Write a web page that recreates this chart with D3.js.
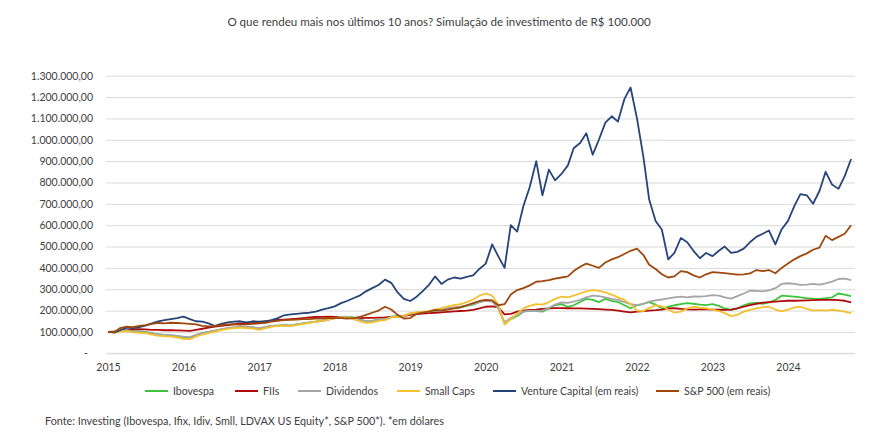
<!DOCTYPE html>
<html>
<head>
<meta charset="utf-8">
<script src="https://cdn.jsdelivr.net/npm/d3@7"></script>
<style>
  body { margin: 0; background: #fff; }
  text { font-family: Lato, "Open Sans", sans-serif; fill: #404040; }
</style>
</head>
<body>
<div id="chart"></div>
<script>
// monthly closing values, in thousands of R$ (start = 100 = R$ 100.000)
var months = d3.timeMonth.range(new Date(2015, 0, 1), new Date(2024, 11, 1));

var ibovespa = [100, 98, 108, 110, 104, 102, 100, 94, 88, 86,
  84, 80, 74, 72, 85, 95, 100, 106, 112, 117,
  120, 124, 122, 122, 114, 122, 128, 130, 132, 130,
  135, 140, 145, 148, 152, 158, 166, 170, 172, 168,
  160, 150, 152, 158, 160, 172, 175, 175, 185, 190,
  192, 195, 198, 205, 210, 212, 215, 222, 228, 240,
  248, 245, 215, 140, 160, 175, 195, 200, 198, 195,
  210, 225, 230, 218, 225, 240, 255, 250, 240, 255,
  245, 240, 225, 211, 225, 232, 240, 228, 210, 218,
  225, 230, 235, 232, 228, 226, 230, 222, 210, 203,
  210, 225, 234, 236, 232, 238, 250, 270, 268, 265,
  262, 258, 256, 255, 258, 262, 280, 275, 268];

var fiis = [100, 102, 105, 110, 112, 113, 112, 110, 110, 108,
  108, 107, 106, 105, 110, 115, 120, 125, 128, 132,
  136, 140, 140, 142, 145, 150, 153, 156, 158, 160,
  162, 165, 168, 170, 171, 172, 170, 168, 166, 164,
  165, 166, 166, 167, 168, 170, 172, 175, 180, 183,
  186, 188, 190, 192, 194, 196, 198, 200, 203, 210,
  218, 220, 215, 182, 185, 195, 200, 203, 205, 208,
  210, 212, 212, 211, 210, 210, 209, 208, 207, 205,
  203, 200, 195, 192, 195, 198, 200, 202, 205, 210,
  211, 208, 206, 205, 206, 206, 205, 204, 203, 205,
  210, 218, 226, 232, 237, 240, 242, 244, 246, 246,
  247, 248, 249, 250, 250, 250, 249, 246, 238];

var dividendos = [100, 98, 106, 108, 103, 100, 98, 93, 88, 86,
  85, 82, 78, 76, 86, 95, 100, 106, 112, 118,
  122, 126, 124, 122, 118, 124, 128, 130, 132, 131,
  135, 140, 144, 148, 152, 158, 164, 168, 170, 166,
  158, 150, 152, 158, 160, 170, 172, 176, 185, 190,
  192, 195, 200, 206, 212, 215, 218, 224, 230, 240,
  246, 242, 212, 145, 165, 180, 195, 200, 198, 200,
  212, 228, 238, 236, 242, 250, 262, 270, 268, 262,
  255, 250, 240, 230, 226, 232, 242, 248, 252, 257,
  262, 265, 262, 266, 265, 268, 272, 270, 262, 256,
  268, 280, 293, 292, 290, 295, 305, 325, 328, 325,
  320, 322, 325, 322, 328, 336, 348, 350, 343];

var smallCaps = [100, 96, 102, 104, 98, 96, 94, 88, 82, 80,
  78, 74, 68, 66, 78, 88, 95, 102, 108, 114,
  118, 120, 118, 116, 110, 118, 124, 128, 130, 128,
  132, 138, 143, 148, 152, 158, 165, 168, 168, 160,
  150, 142, 145, 152, 155, 168, 170, 175, 188, 192,
  194, 198, 205, 212, 220, 225, 230, 240, 252, 270,
  280, 270, 230, 135, 160, 185, 210, 222, 230, 228,
  240, 255, 265, 262, 270, 280, 290, 296, 292, 285,
  275, 262, 250, 230, 200, 198, 212, 225, 220, 205,
  190, 195, 210, 218, 214, 211, 205, 198, 188, 174,
  180, 195, 203, 210, 216, 218, 205, 196, 205, 215,
  218, 208, 200, 202, 200, 204, 200, 195, 188];

var ventureCapital = [100, 98, 108, 120, 118, 122, 130, 140, 150, 155,
  160, 165, 172, 160, 150, 148, 140, 128, 138, 145,
  148, 150, 145, 150, 148, 150, 155, 165, 178, 182,
  185, 188, 190, 195, 205, 212, 220, 235, 245, 258,
  270, 290, 305, 320, 345, 330, 285, 255, 245, 265,
  290, 320, 360, 325, 345, 355, 350, 358, 365, 395,
  420, 510, 455, 400, 600, 570, 690, 780, 900, 740,
  860, 810, 840, 880, 960, 985, 1030, 930, 1000, 1080,
  1110, 1085, 1190, 1245, 1100, 920, 720, 620, 580, 440,
  470, 540, 520, 480, 445, 470, 455, 480, 500, 470,
  475, 490, 520, 545, 560, 575, 510, 580, 620, 690,
  745, 740, 700, 760, 850, 790, 770, 830, 910];

var sp500 = [100, 100, 118, 125, 122, 128, 132, 138, 142, 140,
  143, 142, 140, 138, 135, 128, 126, 128, 132, 135,
  135, 134, 135, 138, 140, 143, 148, 152, 155, 157,
  158, 160, 160, 162, 163, 165, 165, 165, 163, 165,
  170, 180, 190, 200, 218, 205, 180, 163, 165, 185,
  190, 195, 203, 200, 205, 210, 215, 225, 235, 245,
  250, 248, 225, 230, 275, 296, 305, 318, 335, 338,
  343, 350, 355, 360, 385, 405, 420, 410, 400, 425,
  440, 450, 465, 480, 490, 460, 415, 395, 370, 355,
  360, 385, 380, 365, 355, 370, 380, 378, 375, 372,
  368, 370, 374, 390, 385, 390, 375, 400, 420, 440,
  455, 468, 485, 495, 550, 530, 545, 560, 600];

var seriesNames = ["Ibovespa", "FIIs", "Dividendos", "Small Caps",
  "Venture Capital (em reais)", "S&P 500 (em reais)"];
var seriesValues = [ibovespa, fiis, dividendos, smallCaps, ventureCapital, sp500];
var colors = ["#3cc43c", "#b00a0a", "#a5a5a5", "#f5c030", "#264478", "#9e480e"];

var yTicks = d3.range(0, 1300001, 100000);
var years = d3.range(2015, 2025).map(function(y) { return new Date(y, 0, 1); });

var width = 876, height = 433;
var plotLeft = 106, plotRight = 855, plotTop = 75.7, plotBottom = 353.3;

var svg = d3.select("#chart").append("svg")
  .attr("width", width)
  .attr("height", height);

var x = d3.scaleTime()
  .domain([new Date(2015, 0, 1), new Date(2024, 0, 1)])
  .range([108, 788]);

var y = d3.scaleLinear()
  .domain([0, 1300000])
  .range([plotBottom, plotTop]);

// title
svg.append("text")
  .attr("x", 439)
  .attr("y", 26)
  .attr("text-anchor", "middle")
  .style("font-size", "11.6px")
  .style("fill", "#404040")
  .text("O que rendeu mais nos últimos 10 anos? Simulação de investimento de R$ 100.000");

// y axis + gridlines
var br = d3.formatLocale({ decimal: ",", thousands: ".", grouping: [3], currency: ["R$", ""] });
var fmt = br.format(",.2f");

var yAxis = svg.append("g")
  .attr("transform", "translate(" + plotLeft + ",0)")
  .call(d3.axisLeft(y)
    .tickValues(yTicks)
    .tickSize(-(plotRight - plotLeft))
    .tickPadding(13)
    .tickFormat(function(d) { return d === 0 ? "-" : fmt(d); }));
yAxis.select(".domain").remove();
yAxis.selectAll("line").attr("stroke", "#d9d9d9");
yAxis.selectAll("text")
  .style("font-size", "10.5px")
  .style("fill", "#404040")
  .attr("dx", function(d) { return d === 0 ? -5 : 0; });

// x axis
var xAxis = svg.append("g")
  .attr("transform", "translate(0," + plotBottom + ")")
  .call(d3.axisBottom(x)
    .tickValues(years)
    .tickSize(0)
    .tickPadding(10)
    .tickFormat(d3.timeFormat("%Y")));
xAxis.select(".domain").remove();
xAxis.selectAll("text")
  .style("font-size", "10.5px")
  .style("fill", "#404040");

svg.append("line")
  .attr("x1", plotLeft).attr("x2", plotRight)
  .attr("y1", plotBottom).attr("y2", plotBottom)
  .attr("stroke", "#d9d9d9");

// lines
var line = d3.line()
  .x(function(d, i) { return x(months[i]); })
  .y(function(d) { return y(d * 1000); });

svg.append("g").selectAll("path")
  .data(seriesValues)
  .join("path")
  .attr("fill", "none")
  .attr("stroke", function(d, i) { return colors[i]; })
  .attr("stroke-width", 1.8)
  .attr("stroke-linejoin", "round")
  .attr("d", line);

// legend
var legendX = [145, 235, 298, 397, 493, 656];
var legend = svg.append("g").selectAll("g")
  .data(seriesNames)
  .join("g")
  .attr("transform", function(d, i) { return "translate(" + legendX[i] + ",391)"; });

legend.append("line")
  .attr("x1", 0).attr("x2", 23)
  .attr("stroke", function(d, i) { return colors[i]; })
  .attr("stroke-width", 2);

legend.append("text")
  .attr("x", 28)
  .attr("dy", "0.35em")
  .style("font-size", "10.5px")
  .style("fill", "#404040")
  .text(function(d) { return d; });

// source
svg.append("text")
  .attr("x", 45)
  .attr("y", 425)
  .style("font-size", "10.8px")
  .style("fill", "#404040")
  .text("Fonte: Investing (Ibovespa, Ifix, Idiv, Smll, LDVAX US Equity*, S&P 500*). *em dólares");
</script>
</body>
</html>
